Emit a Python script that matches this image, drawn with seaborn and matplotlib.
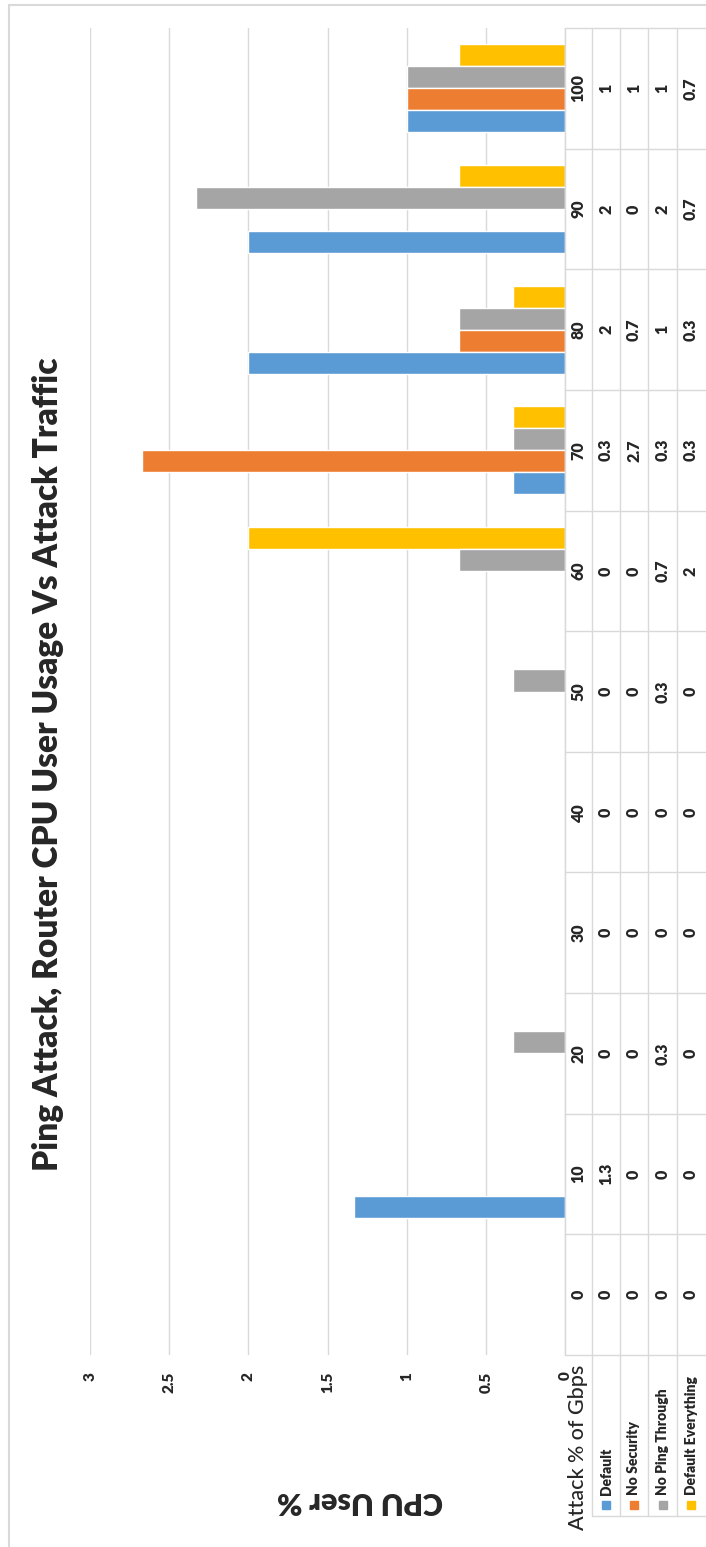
import matplotlib
matplotlib.use('Agg')
import matplotlib.pyplot as plt
import seaborn as sns
import pandas as pd
from matplotlib.lines import Line2D
from matplotlib.patches import Rectangle

# ---------------- data ----------------
categories = ['0', '10', '20', '30', '40', '50', '60', '70', '80', '90', '100']
series_names = ['Default', 'No Security', 'No Ping Through', 'Default Everything']
default_vals = [0, 1.33, 0, 0, 0, 0, 0, 0.33, 2, 2, 1]
no_security_vals = [0, 0, 0, 0, 0, 0, 0, 2.67, 0.67, 0, 1]
no_ping_vals = [0, 0, 0.33, 0, 0, 0.33, 0.67, 0.33, 0.67, 2.33, 1]
default_everything_vals = [0, 0, 0, 0, 0, 0, 2, 0.33, 0.33, 0.67, 0.67]

# data-table text as printed in the chart
default_tbl = ['0', '1.3', '0', '0', '0', '0', '0', '0.3', '2', '2', '1']
no_security_tbl = ['0', '0', '0', '0', '0', '0', '0', '2.7', '0.7', '0', '1']
no_ping_tbl = ['0', '0', '0.3', '0', '0', '0.3', '0.7', '0.3', '1', '2', '1']
default_everything_tbl = ['0', '0', '0', '0', '0', '0', '2', '0.3', '0.3', '0.7', '0.7']

value_ticks = [0, 0.5, 1, 1.5, 2, 2.5, 3]
value_tick_labels = ['0', '0.5', '1', '1.5', '2', '2.5', '3']

title = 'Ping Attack, Router CPU User Usage Vs Attack Traffic'
value_axis_title = 'CPU User %'
category_axis_title = 'Attack % of Gbps'

colors = {'Default': '#5B9BD5', 'No Security': '#ED7D31',
          'No Ping Through': '#A5A5A5', 'Default Everything': '#FFC000'}

# ---------------- build frame ----------------
all_vals = [default_vals, no_security_vals, no_ping_vals, default_everything_vals]
all_tbl = [default_tbl, no_security_tbl, no_ping_tbl, default_everything_tbl]
rows = []
for name, vals in zip(series_names, all_vals):
    for c, v in zip(categories, vals):
        rows.append({'category': c, 'series': name, 'value': v})
df = pd.DataFrame(rows)

sns.set_style('white')
plt.rcParams['font.family'] = ['Lato', 'DejaVu Sans']

W, H = 706, 1547
fig = plt.figure(figsize=(W / 100, H / 100), dpi=100)
fig.patch.set_facecolor('white')

def fx(x):
    return x / W

def fy(y):
    return 1 - y / H

GRID = '#d9d9d9'
HEAVY = 'heavy'
top_px, bot_px = 28, 1355
left_px, zero_px = 90, 565

ax = fig.add_axes([fx(left_px), fy(bot_px), (zero_px - left_px) / W, (bot_px - top_px) / H])
order = categories[::-1]
sns.barplot(data=df, x='value', y='category', hue='series', order=order,
            hue_order=series_names[::-1], palette=colors, orient='h', width=0.73,
            saturation=1, errorbar=None, legend=False, ax=ax, zorder=3)
ax.set_xlim(3, 0)
ax.set_ylim(len(categories) - 0.5, -0.5)
ax.set_xticks(value_ticks)
ax.set_xticklabels(value_tick_labels, rotation=90, fontweight=HEAVY, fontsize=11)
ax.tick_params(axis='x', length=0, pad=12)
ax.set_yticks([])
ax.set_xlabel('')
ax.set_ylabel('')
for s in ax.spines.values():
    s.set_visible(False)
ax.grid(axis='x', color=GRID, lw=1)
ax.set_axisbelow(True)
for lbl in ax.get_xticklabels():
    lbl.set_va('top')

# ---------------- data table ----------------
tax = fig.add_axes([fx(zero_px), fy(bot_px), (W - zero_px) / W, (bot_px - top_px) / H])
tax.set_xlim(zero_px, W)
tax.set_ylim(len(categories) - 0.5, -0.5)
tax.axis('off')
col_bounds = [565, 592, 620, 648, 677]
col_centers = [578.5, 606, 634, 662.5, 691]
for b in col_bounds:
    tax.axvline(b, color=GRID, lw=1, clip_on=False)
for k in range(len(categories) + 1):
    tax.axhline(k - 0.5, color=GRID, lw=1, clip_on=False)
for i, cat in enumerate(order):
    tax.text(col_centers[0], i, cat, rotation=90, ha='center', va='center',
             fontweight=HEAVY, fontsize=11.5)
    idx = categories.index(cat)
    for j, tbl in enumerate(all_tbl):
        tax.text(col_centers[j + 1], i, tbl[idx], rotation=90, ha='center',
                 va='center', fontweight=HEAVY, fontsize=11.5)

# legend rows below the table
for b in col_bounds[1:]:
    fig.add_artist(Line2D([fx(b), fx(b)], [fy(bot_px), fy(1516)], color=GRID, lw=1,
                          transform=fig.transFigure))
fig.add_artist(Line2D([fx(592), fx(W)], [fy(1516), fy(1516)], color=GRID, lw=1,
                      transform=fig.transFigure))
for j, name in enumerate(series_names):
    cx = col_centers[j + 1]
    fig.text(fx(cx), fy(1495), name, rotation=90, ha='center', va='bottom',
             fontweight=HEAVY, fontsize=10)
    fig.add_artist(Rectangle((fx(cx - 4), fy(1509)), 8 / W, 8 / H, color=colors[name],
                             transform=fig.transFigure))

fig.text(fx(578.5), fy(1530), category_axis_title, rotation=90, ha='center', va='bottom',
         fontsize=15.5, fontweight='medium')
fig.text(fx(360), fy(1501), value_axis_title, rotation=180, ha='center', va='center',
         fontweight=HEAVY, fontsize=22)
fig.text(fx(48), fy(764), title, rotation=90, ha='center', va='center',
         fontweight=HEAVY, fontsize=24)

# chart-area border
fig.add_artist(Line2D([fx(9), fx(W + 5)], [fy(5), fy(5)], color=GRID, lw=1.5,
                      transform=fig.transFigure))
fig.add_artist(Line2D([fx(9), fx(9)], [fy(5), fy(H + 5)], color=GRID, lw=1.5,
                      transform=fig.transFigure))

fig.savefig('out.png', dpi=100)
